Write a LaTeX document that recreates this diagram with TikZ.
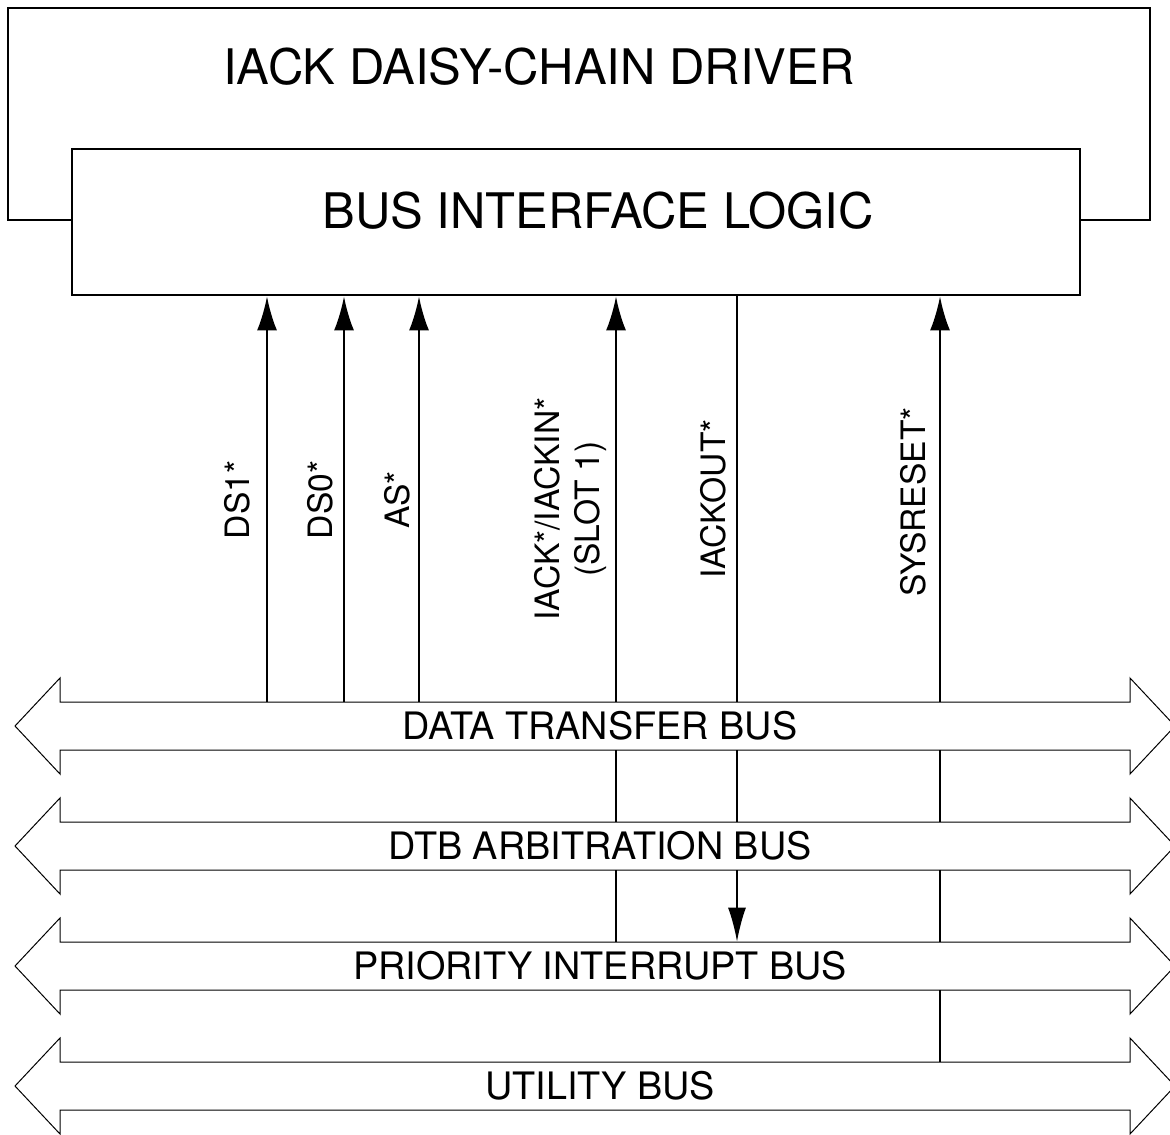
\documentclass[tikz,border=0pt]{standalone}
\usepackage{fontspec}
\setmainfont{TeX Gyre Heros}
\usetikzlibrary{arrows.meta,positioning}
\tikzset{
  box/.style={draw, line width=1.4pt, fill=white, inner sep=0pt},
  sigline/.style={line width=1.1pt},
  sigarrow/.style={sigline, -{Latex[length=17pt,width=10pt]}},
  sigtext/.style={rotate=90, font=\fontsize{16.8}{20}\selectfont, align=center, inner sep=0pt},
  busline/.style={line width=0.5pt},
  bustext/.style={font=\fontsize{18.9}{22}\selectfont, inner sep=0pt, minimum height=24pt},
  tapline/.style={line width=0.8pt},
}
\begin{document}
\begin{tikzpicture}[x=0.5pt, y=-0.5pt]
\useasboundingbox (0,0) rectangle (1170,1134);
% Boxes
\node (driver) at (579,114) [box, minimum width=571pt, minimum height=106pt] {};
\node (bil) at (576,222) [box, minimum width=504pt, minimum height=73pt] {};
\node (drvtext) at (539,67) [font=\fontsize{24.5}{28}\selectfont] {IACK DAISY-CHAIN DRIVER};
\node (biltext) at (598,211) [font=\fontsize{24.5}{28}\selectfont] {BUS INTERFACE LOGIC};

% Buses
\foreach \y/\name/\txt in {726/dtb/DATA TRANSFER BUS, 846/arb/DTB ARBITRATION BUS, 966/pib/PRIORITY INTERRUPT BUS, 1086/util/UTILITY BUS} {
  \draw [busline] (15,\y) -- (60,\y-48) -- (60,\y-24) -- (1130,\y-24) -- (1130,\y-48) -- (1175,\y)
    -- (1130,\y+48) -- (1130,\y+24) -- (60,\y+24) -- (60,\y+48) -- cycle;
  \node (\name) at (600,\y) [bustext] {\txt};
}

% Signal positions
\coordinate (ds1) at (267,0);
\coordinate (ds0) at (344,0);
\coordinate (as) at (419,0);
\coordinate (iack) at (616,0);
\coordinate (iackout) at (737,0);
\coordinate (sysreset) at (940,0);

% Signals to the bus interface logic
\draw [sigarrow] (ds1 |- dtb.north) -- (ds1 |- bil.south);
\draw [sigarrow] (ds0 |- dtb.north) -- (ds0 |- bil.south);
\draw [sigarrow] (as |- dtb.north) -- (as |- bil.south);
\draw [sigarrow] (iack |- dtb.north) -- (iack |- bil.south);
\draw [sigline] (iackout |- dtb.north) -- (iackout |- bil.south);
\draw [sigarrow] (sysreset |- dtb.north) -- (sysreset |- bil.south);

\node (ds1text) at (237,500) [sigtext] {DS1*};
\node (ds0text) at (320,500) [sigtext] {DS0*};
\node (astext) at (397,500) [sigtext] {AS*};
\node (iacktext) at (570,509) [sigtext] {IACK*/IACKIN*\\(SLOT 1)};
\node (iackouttext) at (713,499) [sigtext] {IACKOUT*};
\node (sysresettext) at (913,502) [sigtext] {SYSRESET*};

% Lines between the buses
\foreach \s in {iack, iackout, sysreset}
  \draw [tapline] (\s |- dtb.south) -- (\s |- arb.north);
\draw [tapline] (iack |- arb.south) -- (iack |- pib.north);
\draw [tapline, -{Latex[length=17pt,width=9pt]}] (iackout |- arb.south) -- (iackout |- pib.north);
\draw [tapline] (sysreset |- arb.south) -- (sysreset |- pib.north);
\draw [tapline] (sysreset |- pib.south) -- (sysreset |- util.north);
\end{tikzpicture}
\end{document}
